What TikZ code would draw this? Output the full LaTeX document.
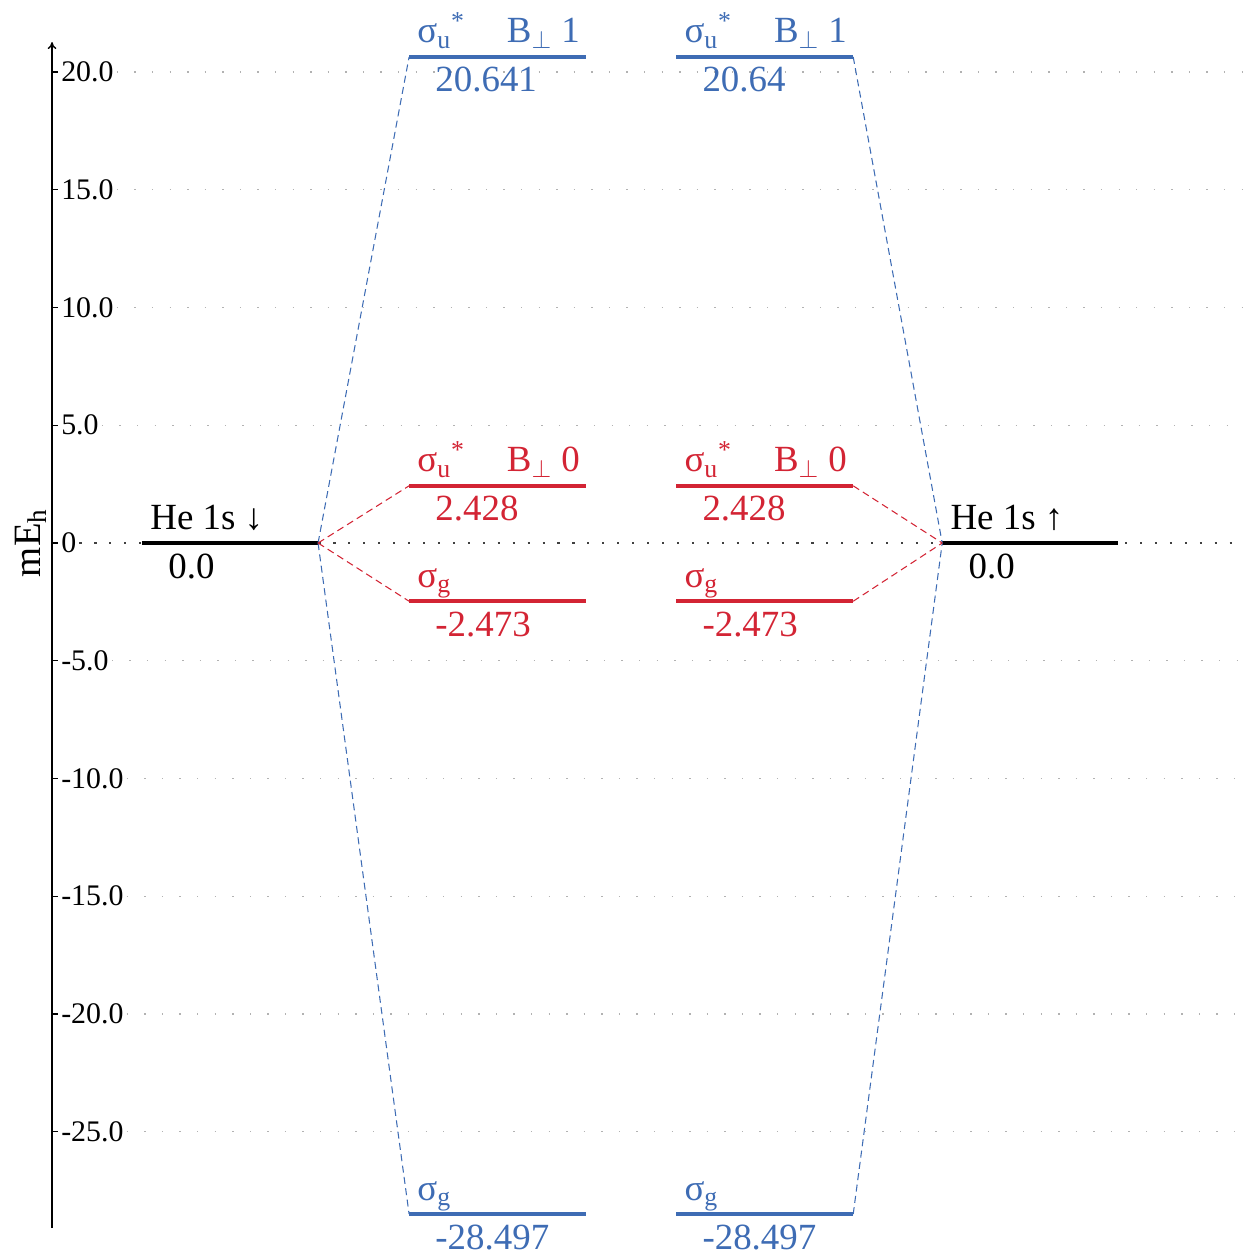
\documentclass[tikz,border=0pt]{standalone}
\usepackage{fontspec}
\setmainfont{Liberation Serif}
\usetikzlibrary{calc,arrows.meta}
\definecolor{Blue}{RGB}{62,108,180}
\definecolor{Red}{RGB}{211,36,52}

\begin{document}
\begin{tikzpicture}[x=0.02cm,y=0.471cm,
  lvl/.style={line width=2.3pt},
  conn/.style={dash pattern=on 4pt off 2.5pt,line width=0.6pt},
  gridline/.style={gray!60,line width=0.7pt,dash pattern=on 0.8pt off 9.2pt},
  toplab/.style={anchor=base west,xshift=0.16cm,yshift=0.28cm,inner sep=0pt,font=\fontsize{21}{21}\selectfont},
  vallab/.style={anchor=base west,xshift=0.52cm,yshift=-0.70cm,inner sep=0pt,font=\fontsize{21}{21}\selectfont},
  ticklab/.style={anchor=west,inner sep=1.5pt,font=\fontsize{17}{17}\selectfont}]
\useasboundingbox (0,-30.02) rectangle (1243,23.057);
% energy axis
\coordinate (axbot) at (52,-29.09);
\coordinate (axtop) at (52,21.27);
\foreach \e/\t in {20/20.0,15/15.0,10/10.0,5/5.0,-5/-5.0,-10/-10.0,-15/-15.0,-20/-20.0,-25/-25.0}{
  \draw[line width=0.7pt] (52,\e) -- (58,\e) node[ticklab] (tk\e) {\t};
  \draw[gridline] (tk\e.east) -- (1243,\e);
}
\draw[line width=0.7pt] (52,0) -- (58,0) node[ticklab] (tk0) {0};
\draw[black!75,line width=0.8pt,dash pattern=on 1.2pt off 7.3pt] (tk0.east) -- (1243,0);
\draw[-{To[length=4pt,width=5pt]},line width=0.8pt] (axbot) -- (axtop);
\node[rotate=90,font=\fontsize{22}{22}\selectfont] (ylab) at (31,0) {mE\textsubscript{h}};

% He atoms
\draw[lvl] (142,0) coordinate (heLl) -- (318,0) coordinate (heLr);
\node[toplab] (heLtop) at (heLl) {He 1s ↓};
\node[vallab] (heLval) at (heLl) {0.0};
\draw[lvl] (942,0) coordinate (heRl) -- (1118,0) coordinate (heRr);
\node[toplab] (heRtop) at (heRl) {He 1s ↑};
\node[vallab] (heRval) at (heRl) {0.0};

% left column
\draw[lvl,Blue] (409,20.641) coordinate (a1l) -- (586,20.641) coordinate (a1r);
\node[toplab,Blue] (a1top) at (a1l) {σ\textsubscript{u}\textsuperscript{*}\hspace{0.84cm}B\textsubscript{$\perp$}\ 1};
\node[vallab,Blue] (a1val) at (a1l) {20.641};
\draw[lvl,Red] (409,2.428) coordinate (a2l) -- (586,2.428) coordinate (a2r);
\node[toplab,Red] (a2top) at (a2l) {σ\textsubscript{u}\textsuperscript{*}\hspace{0.84cm}B\textsubscript{$\perp$}\ 0};
\node[vallab,Red] (a2val) at (a2l) {2.428};
\draw[lvl,Red] (409,-2.473) coordinate (a3l) -- (586,-2.473) coordinate (a3r);
\node[toplab,Red] (a3top) at (a3l) {σ\textsubscript{g}};
\node[vallab,Red] (a3val) at (a3l) {-2.473};
\draw[lvl,Blue] (409,-28.497) coordinate (a4l) -- (586,-28.497) coordinate (a4r);
\node[toplab,Blue] (a4top) at (a4l) {σ\textsubscript{g}};
\node[vallab,Blue] (a4val) at (a4l) {-28.497};

% right column
\draw[lvl,Blue] (676,20.64) coordinate (b1l) -- (853,20.64) coordinate (b1r);
\node[toplab,Blue] (b1top) at (b1l) {σ\textsubscript{u}\textsuperscript{*}\hspace{0.84cm}B\textsubscript{$\perp$}\ 1};
\node[vallab,Blue] (b1val) at (b1l) {20.64};
\draw[lvl,Red] (676,2.428) coordinate (b2l) -- (853,2.428) coordinate (b2r);
\node[toplab,Red] (b2top) at (b2l) {σ\textsubscript{u}\textsuperscript{*}\hspace{0.84cm}B\textsubscript{$\perp$}\ 0};
\node[vallab,Red] (b2val) at (b2l) {2.428};
\draw[lvl,Red] (676,-2.473) coordinate (b3l) -- (853,-2.473) coordinate (b3r);
\node[toplab,Red] (b3top) at (b3l) {σ\textsubscript{g}};
\node[vallab,Red] (b3val) at (b3l) {-2.473};
\draw[lvl,Blue] (676,-28.497) coordinate (b4l) -- (853,-28.497) coordinate (b4r);
\node[toplab,Blue] (b4top) at (b4l) {σ\textsubscript{g}};
\node[vallab,Blue] (b4val) at (b4l) {-28.497};

% correlation lines
\draw[conn,Blue] (heLr) -- (a1l) (heLr) -- (a4l);
\draw[conn,Red] (heLr) -- (a2l) (heLr) -- (a3l);
\draw[conn,Blue] (b1r) -- (heRl) (b4r) -- (heRl);
\draw[conn,Red] (b2r) -- (heRl) (b3r) -- (heRl);
\end{tikzpicture}
\end{document}
